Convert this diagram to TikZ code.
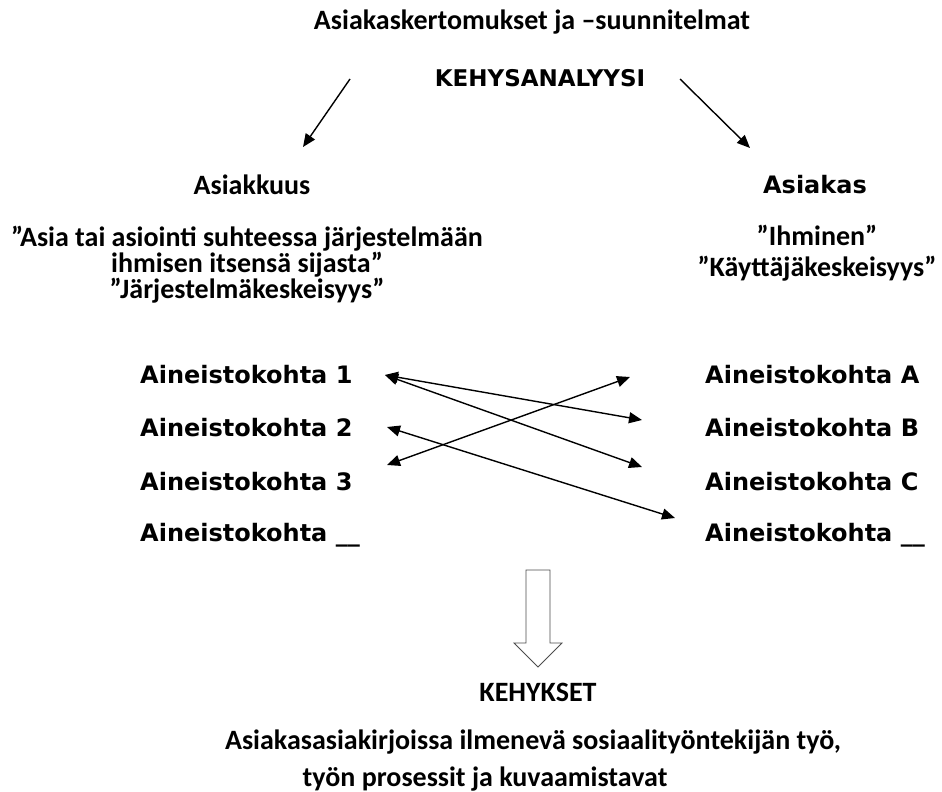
\documentclass[tikz,border=0pt]{standalone}
\usepackage{fontspec}
\setmainfont{Carlito}
\newfontfamily\verdfont{DejaVu Sans}
\usetikzlibrary{arrows.meta}

\begin{document}
\begin{tikzpicture}[x=1pt, y=-1pt,
		txt/.style={font=\bfseries\fontsize{28}{30}\selectfont, inner sep=0pt},
		wide/.style={font=\verdfont\bfseries\fontsize{24}{28}\selectfont, inner sep=0pt},
		item/.style={wide, anchor=west},
		tip/.style={-{Triangle[length=13pt, width=11pt]}, line width=1.4pt},
		link/.style={{Triangle[length=13pt, width=11pt]}-{Triangle[length=13pt, width=11pt]}, line width=1.4pt}]
			%%%%% START %%%%%
			
			\useasboundingbox (0, 0) rectangle (942, 792);
			
			\node[txt] (title) at (532, 22) {Asiakaskertomukset ja –suunnitelmat};
			\node[wide, font=\verdfont\bfseries\fontsize{23}{28}\selectfont] (frame) at (540, 78) {KEHYSANALYYSI};
			
			\coordinate (fl) at (350, 79);
			\coordinate (tl) at (303, 147);
			\coordinate (fr) at (680, 79);
			\coordinate (tr) at (750, 148);
			\draw[tip] (fl) -- (tl);
			\draw[tip] (fr) -- (tr);
			
			\node[txt] (custship) at (252, 185) {Asiakkuus};
			\node[txt, align=center, font=\bfseries\fontsize{28}{26}\selectfont] (sysq) at (247, 265)
				{”Asia tai asiointi suhteessa järjestelmään\\ihmisen itsensä sijasta”\\”Järjestelmäkeskeisyys”};
			
			\node[wide] (cust) at (815, 185) {Asiakas};
			\node[txt, align=center, font=\bfseries\fontsize{28}{31}\selectfont] (userq) at (817, 253)
				{”Ihminen”\\”Käyttäjäkeskeisyys”};
			
			\node[item] (i1) at (140, 375) {Aineistokohta 1};
			\node[item] (i2) at (140, 428) {Aineistokohta 2};
			\node[item] (i3) at (140, 482) {Aineistokohta 3};
			\node[item] (i4) at (140, 535) {Aineistokohta \_\_};
			
			\node[item] (iA) at (705, 375) {Aineistokohta A};
			\node[item] (iB) at (705, 428) {Aineistokohta B};
			\node[item] (iC) at (705, 482) {Aineistokohta C};
			\node[item] (iD) at (705, 535) {Aineistokohta \_\_};
			
			\coordinate (e1) at (385, 375);
			\coordinate (e2) at (387, 427);
			\coordinate (e3) at (387, 465);
			\coordinate (eA) at (630, 377);
			\coordinate (eB) at (642, 420);
			\coordinate (eC) at (642, 467);
			\coordinate (eD) at (675, 518);
			\draw[link] (e1) -- (eB);
			\draw[link] (e1) -- (eC);
			\draw[link] (e3) -- (eA);
			\draw[link] (e2) -- (eD);
			
			\draw[line width=0.8pt, draw=black!70, fill=white] (526, 570) -- (550, 570) -- (550, 643) -- (562, 643) -- (538, 667) -- (514, 643) -- (526, 643) -- cycle;
			
			\node[txt] (frames) at (538, 692) {KEHYKSET};
			\node[txt] (b1) at (533, 742) {Asiakasasiakirjoissa ilmenevä sosiaalityöntekijän työ,};
			\node[txt] (b2) at (485, 779) {työn prosessit ja kuvaamistavat};
			
			%%%%% END %%%%%
\end{tikzpicture}
\end{document}
